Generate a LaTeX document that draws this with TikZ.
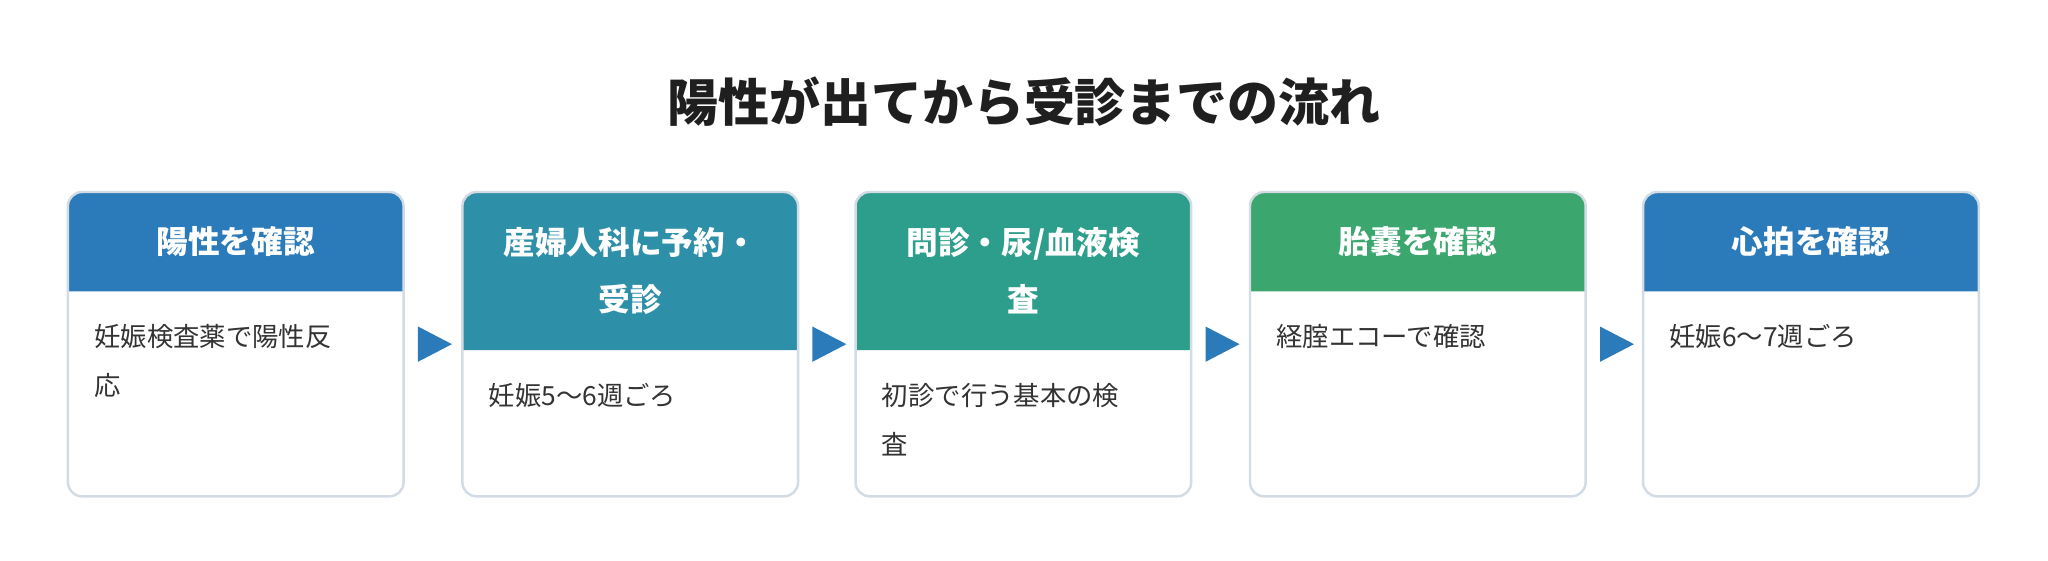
\documentclass[tikz,border=0pt]{standalone}
\usepackage{fontspec}
\setmainfont{Noto Sans CJK JP}
\usetikzlibrary{positioning}
\definecolor{hdrblue}{HTML}{2B7BBA}
\definecolor{hdrteal}{HTML}{2E8FA8}
\definecolor{hdrgreen}{HTML}{2E9E8C}
\definecolor{hdrleaf}{HTML}{3BA66E}
\definecolor{boxline}{HTML}{D3DCE4}
\definecolor{ink}{HTML}{333333}
\tikzset{
  head/.style={text=white, font=\bfseries\fontsize{18}{32.5}\selectfont, align=center},
  body/.style={text=ink, font=\fontsize{15}{28}\selectfont, align=left, anchor=north west, inner sep=0pt},
  frame/.style={draw=boxline, line width=1.4pt, rounded corners=8},
  pointer/.style={fill=hdrblue},
}
\newcommand{\flowstep}[6]{% name, left x, colour, header bottom, header, body
  \fill[#3] (#2,#4) [rounded corners=8] -- (#2,147) -- (#2+257,147) [sharp corners] -- (#2+257,#4) -- cycle;
  \draw[frame] (#2,147) rectangle (#2+257,380);
  \node[head] (#1h) at (#2+128.5,{(147+#4)/2}) {#5};
  \node[body] (#1b) at (#2+20,#4+25) {#6};
}
\begin{document}
\begin{tikzpicture}[x=0.02612cm,y=-0.02612cm]
  \useasboundingbox[fill=white] (0,0) rectangle (1568,428.8);
  \node[font=\bfseries\fontsize{29}{34}\selectfont, text=black!88] (title) at (784,78) {陽性が出てから受診までの流れ};

  \flowstep{s1}{52}{hdrblue}{223}{陽性を確認}{妊娠検査薬で陽性反\\応}
  \flowstep{s2}{354}{hdrteal}{268}{産婦人科に予約・\\受診}{妊娠5〜6週ごろ}
  \flowstep{s3}{655}{hdrgreen}{268}{問診・尿/血液検\\査}{初診で行う基本の検\\査}
  \flowstep{s4}{957}{hdrleaf}{223}{胎嚢を確認}{経腟エコーで確認}
  \flowstep{s5}{1258}{hdrblue}{223}{心拍を確認}{妊娠6〜7週ごろ}

  % arrows between the steps
  \foreach \x in {320,622,923,1225}
    \fill[pointer] (\x,250) -- (\x+26,263.5) -- (\x,277) -- cycle;
\end{tikzpicture}
\end{document}
